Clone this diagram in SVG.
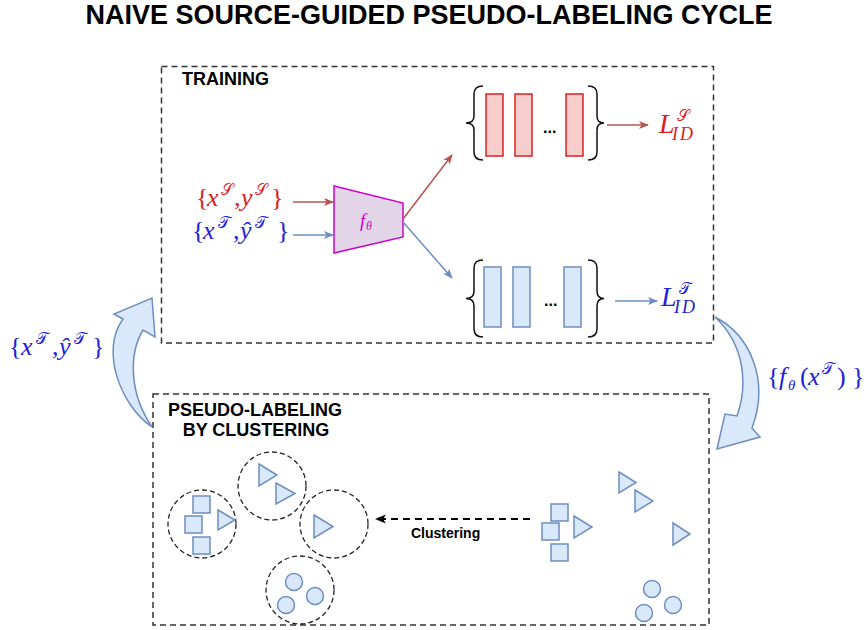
<svg xmlns="http://www.w3.org/2000/svg" width="867" height="630" viewBox="0 0 867 630">
<defs>
<style>
.title{font-family:"Liberation Sans",Arial,sans-serif;font-weight:bold;fill:#000}
.box{fill:none;stroke:#333;stroke-width:1.5;stroke-dasharray:6 4}
.clu{fill:none;stroke:#222;stroke-width:1.3;stroke-dasharray:5 3}
.sh{fill:#dae8fc;stroke:#6c8ebf;stroke-width:1.5}
.rr{fill:#f8cecc;stroke:#dd1f1f;stroke-width:1.5}
.br{fill:none;stroke:#111;stroke-width:1.5}
.m{font-family:"Liberation Serif","DejaVu Serif",serif;font-size:26px}
.i{font-style:italic}
.cal{font-family:"DejaVu Sans","DejaVu Serif","Liberation Serif",serif;font-size:16px}
.red{fill:#d91e1e}
.blue{fill:#1f22d8}
</style>
<marker id="aR" viewBox="0 0 10 10" refX="9" refY="5" markerWidth="10" markerHeight="10" orient="auto" markerUnits="userSpaceOnUse"><path d="M0,1 L10,5 L0,9 L2.5,5 Z" fill="#b85450"/></marker>
<marker id="aB" viewBox="0 0 10 10" refX="9" refY="5" markerWidth="10" markerHeight="10" orient="auto" markerUnits="userSpaceOnUse"><path d="M0,1 L10,5 L0,9 L2.5,5 Z" fill="#6c8ebf"/></marker>
<marker id="aK" viewBox="0 0 10 10" refX="9" refY="5" markerWidth="11" markerHeight="11" orient="auto" markerUnits="userSpaceOnUse"><path d="M0,1 L10,5 L0,9 L2.5,5 Z" fill="#000"/></marker>
</defs>

<text id="title" class="title" x="429" y="24" font-size="27" text-anchor="middle">NAIVE SOURCE-GUIDED PSEUDO-LABELING CYCLE</text>

<g id="training">
<rect class="box" x="161.5" y="66.5" width="552" height="276.5"/>
<text class="title" x="182" y="85" font-size="18">TRAINING</text>
</g>

<g id="pseudo-labeling">
<rect class="box" x="153" y="394" width="556" height="231"/>
<text class="title" x="255" y="416" font-size="18" text-anchor="middle">PSEUDO-LABELING</text>
<text class="title" x="256" y="436" font-size="18" text-anchor="middle">BY CLUSTERING</text>
</g>

<g id="input-source">
<text class="m red"><tspan x="196" y="206">{</tspan><tspan class="i" x="207" y="206">x</tspan><tspan class="cal" x="221" y="195">𝒮</tspan><tspan x="234" y="206">,</tspan><tspan class="i" x="241" y="206">y</tspan><tspan class="cal" x="255" y="195">𝒮</tspan><tspan x="271" y="206">}</tspan></text>
</g>
<g id="input-target">
<text class="m blue"><tspan x="192" y="239">{</tspan><tspan class="i" x="203" y="239">x</tspan><tspan class="cal" x="218" y="228">𝒯</tspan><tspan x="233" y="239">,</tspan><tspan class="i" x="240" y="239">ŷ</tspan><tspan class="cal" x="255" y="228">𝒯</tspan><tspan x="277" y="239">}</tspan></text>
</g>

<g id="model">
<polygon points="334,186 403,203 403,237 334,253" fill="#e1d5e7" stroke="#cc00cc" stroke-width="1.5"/>
<text class="m i" fill="#cc00cc"><tspan x="360" y="227" font-size="19">f</tspan><tspan x="366" y="230" font-size="12">θ</tspan></text>
</g>

<g id="source-head">
<path class="br" d="M483,86 Q474,86 474,94 L474,116 Q474,123 466,123 Q474,123 474,130 L474,152 Q474,160 483,160"/>
<path class="br" d="M588,86 Q597,86 597,94 L597,116 Q597,123 604,123 Q597,123 597,130 L597,152 Q597,160 588,160"/>
<rect class="rr" x="486" y="94" width="17" height="62"/>
<rect class="rr" x="515" y="94" width="17" height="62"/>
<rect class="rr" x="566" y="94" width="17" height="62"/>
<text class="title" x="543" y="133" font-size="16">...</text>
</g>

<g id="target-head">
<path class="br" d="M483,260 Q474,260 474,268 L474,291 Q474,298.5 466,298.5 Q474,298.5 474,306 L474,329 Q474,337 483,337"/>
<path class="br" d="M588,260 Q597,260 597,268 L597,291 Q597,298.5 604,298.5 Q597,298.5 597,306 L597,329 Q597,337 588,337"/>
<rect class="sh" x="484" y="267" width="17" height="60"/>
<rect class="sh" x="513" y="267" width="17" height="60"/>
<rect class="sh" x="564" y="267" width="17" height="60"/>
<text class="title" x="544" y="306" font-size="16">...</text>
</g>

<g id="loss-source">
<text class="m red"><tspan class="i" x="659" y="133" font-size="28">L</tspan><tspan class="cal" x="677" y="121" font-size="17">𝒮</tspan><tspan class="i" x="672" y="140" font-size="18" letter-spacing="2">ID</tspan></text>
</g>
<g id="loss-target">
<text class="m blue"><tspan class="i" x="661" y="306" font-size="28">L</tspan><tspan class="cal" x="679" y="294" font-size="17">𝒯</tspan><tspan class="i" x="674" y="313" font-size="18" letter-spacing="2">ID</tspan></text>
</g>

<g id="label-left">
<text class="m blue"><tspan x="9" y="355">{</tspan><tspan class="i" x="21" y="355">x</tspan><tspan class="cal" x="36" y="344">𝒯</tspan><tspan x="52" y="355">,</tspan><tspan class="i" x="59" y="355">ŷ</tspan><tspan class="cal" x="74" y="344">𝒯</tspan><tspan x="92" y="355">}</tspan></text>
</g>
<g id="label-right">
<text class="m blue"><tspan x="767" y="385">{</tspan><tspan class="i" x="779" y="385">f</tspan><tspan class="i" x="788" y="390" font-size="15">θ</tspan><tspan x="800" y="385">(</tspan><tspan class="i" x="808" y="385">x</tspan><tspan class="cal" x="822" y="374">𝒯</tspan><tspan x="837" y="385">)</tspan><tspan x="852" y="385">}</tspan></text>
</g>

<g id="cycle-arrows">
<path class="sh" d="M152,427 C120,405 100,350 123,319 L114,314 L152,298 L155,337 L143,330 C128,355 130,395 152,427 Z"/>
<path class="sh" d="M715,317 C750,335 770,380 752,428 L760,437 L717,449 L725,414 L737,416 C748,385 745,345 715,317 Z"/>
</g>

<g id="clusters">
<circle class="clu" cx="202" cy="524" r="34"/>
<circle class="clu" cx="272" cy="486" r="34"/>
<circle class="clu" cx="334" cy="524" r="34"/>
<circle class="clu" cx="300" cy="590" r="34"/>
<rect class="sh" x="193" y="496" width="17" height="17"/>
<rect class="sh" x="185" y="516" width="17" height="17"/>
<rect class="sh" x="193" y="537" width="17" height="17"/>
<polygon class="sh" points="218,510 235,520 218,530"/>
<polygon class="sh" points="259,464 277,475 259,486"/>
<polygon class="sh" points="276,483 295,493.5 276,504"/>
<polygon class="sh" points="314,515 333,526.5 314,538"/>
<circle class="sh" cx="294" cy="582" r="8.5"/>
<circle class="sh" cx="315" cy="596" r="8.5"/>
<circle class="sh" cx="286" cy="605" r="8.5"/>
</g>

<g id="raw-points">
<rect class="sh" x="551" y="504" width="17" height="17"/>
<rect class="sh" x="542" y="523" width="17" height="17"/>
<rect class="sh" x="551" y="544" width="17" height="17"/>
<polygon class="sh" points="574,516 592,527 574,538"/>
<polygon class="sh" points="619,472 636,482.5 619,493"/>
<polygon class="sh" points="635,490 653,501 635,512"/>
<polygon class="sh" points="673,523 690,534 673,545"/>
<circle class="sh" cx="652" cy="589" r="8.5"/>
<circle class="sh" cx="673" cy="605" r="8.5"/>
<circle class="sh" cx="644" cy="613" r="8.5"/>
</g>

<g id="connectors">
<line x1="293" y1="202" x2="333" y2="202" stroke="#b85450" stroke-width="1.5" marker-end="url(#aR)"/>
<line x1="293" y1="235" x2="333" y2="235" stroke="#6c8ebf" stroke-width="1.5" marker-end="url(#aB)"/>
<line x1="403" y1="219" x2="452" y2="155" stroke="#b85450" stroke-width="1.5" marker-end="url(#aR)"/>
<line x1="403" y1="222" x2="452" y2="278" stroke="#6c8ebf" stroke-width="1.5" marker-end="url(#aB)"/>
<line x1="607" y1="125" x2="648" y2="125" stroke="#b85450" stroke-width="1.5" marker-end="url(#aR)"/>
<line x1="615" y1="301" x2="657" y2="301" stroke="#6c8ebf" stroke-width="1.5" marker-end="url(#aB)"/>
<line x1="530" y1="519" x2="376" y2="519" stroke="#000" stroke-width="2" stroke-dasharray="7 5" marker-end="url(#aK)"/>
<text class="title" x="411" y="538" font-size="14">Clustering</text>
</g>
</svg>
